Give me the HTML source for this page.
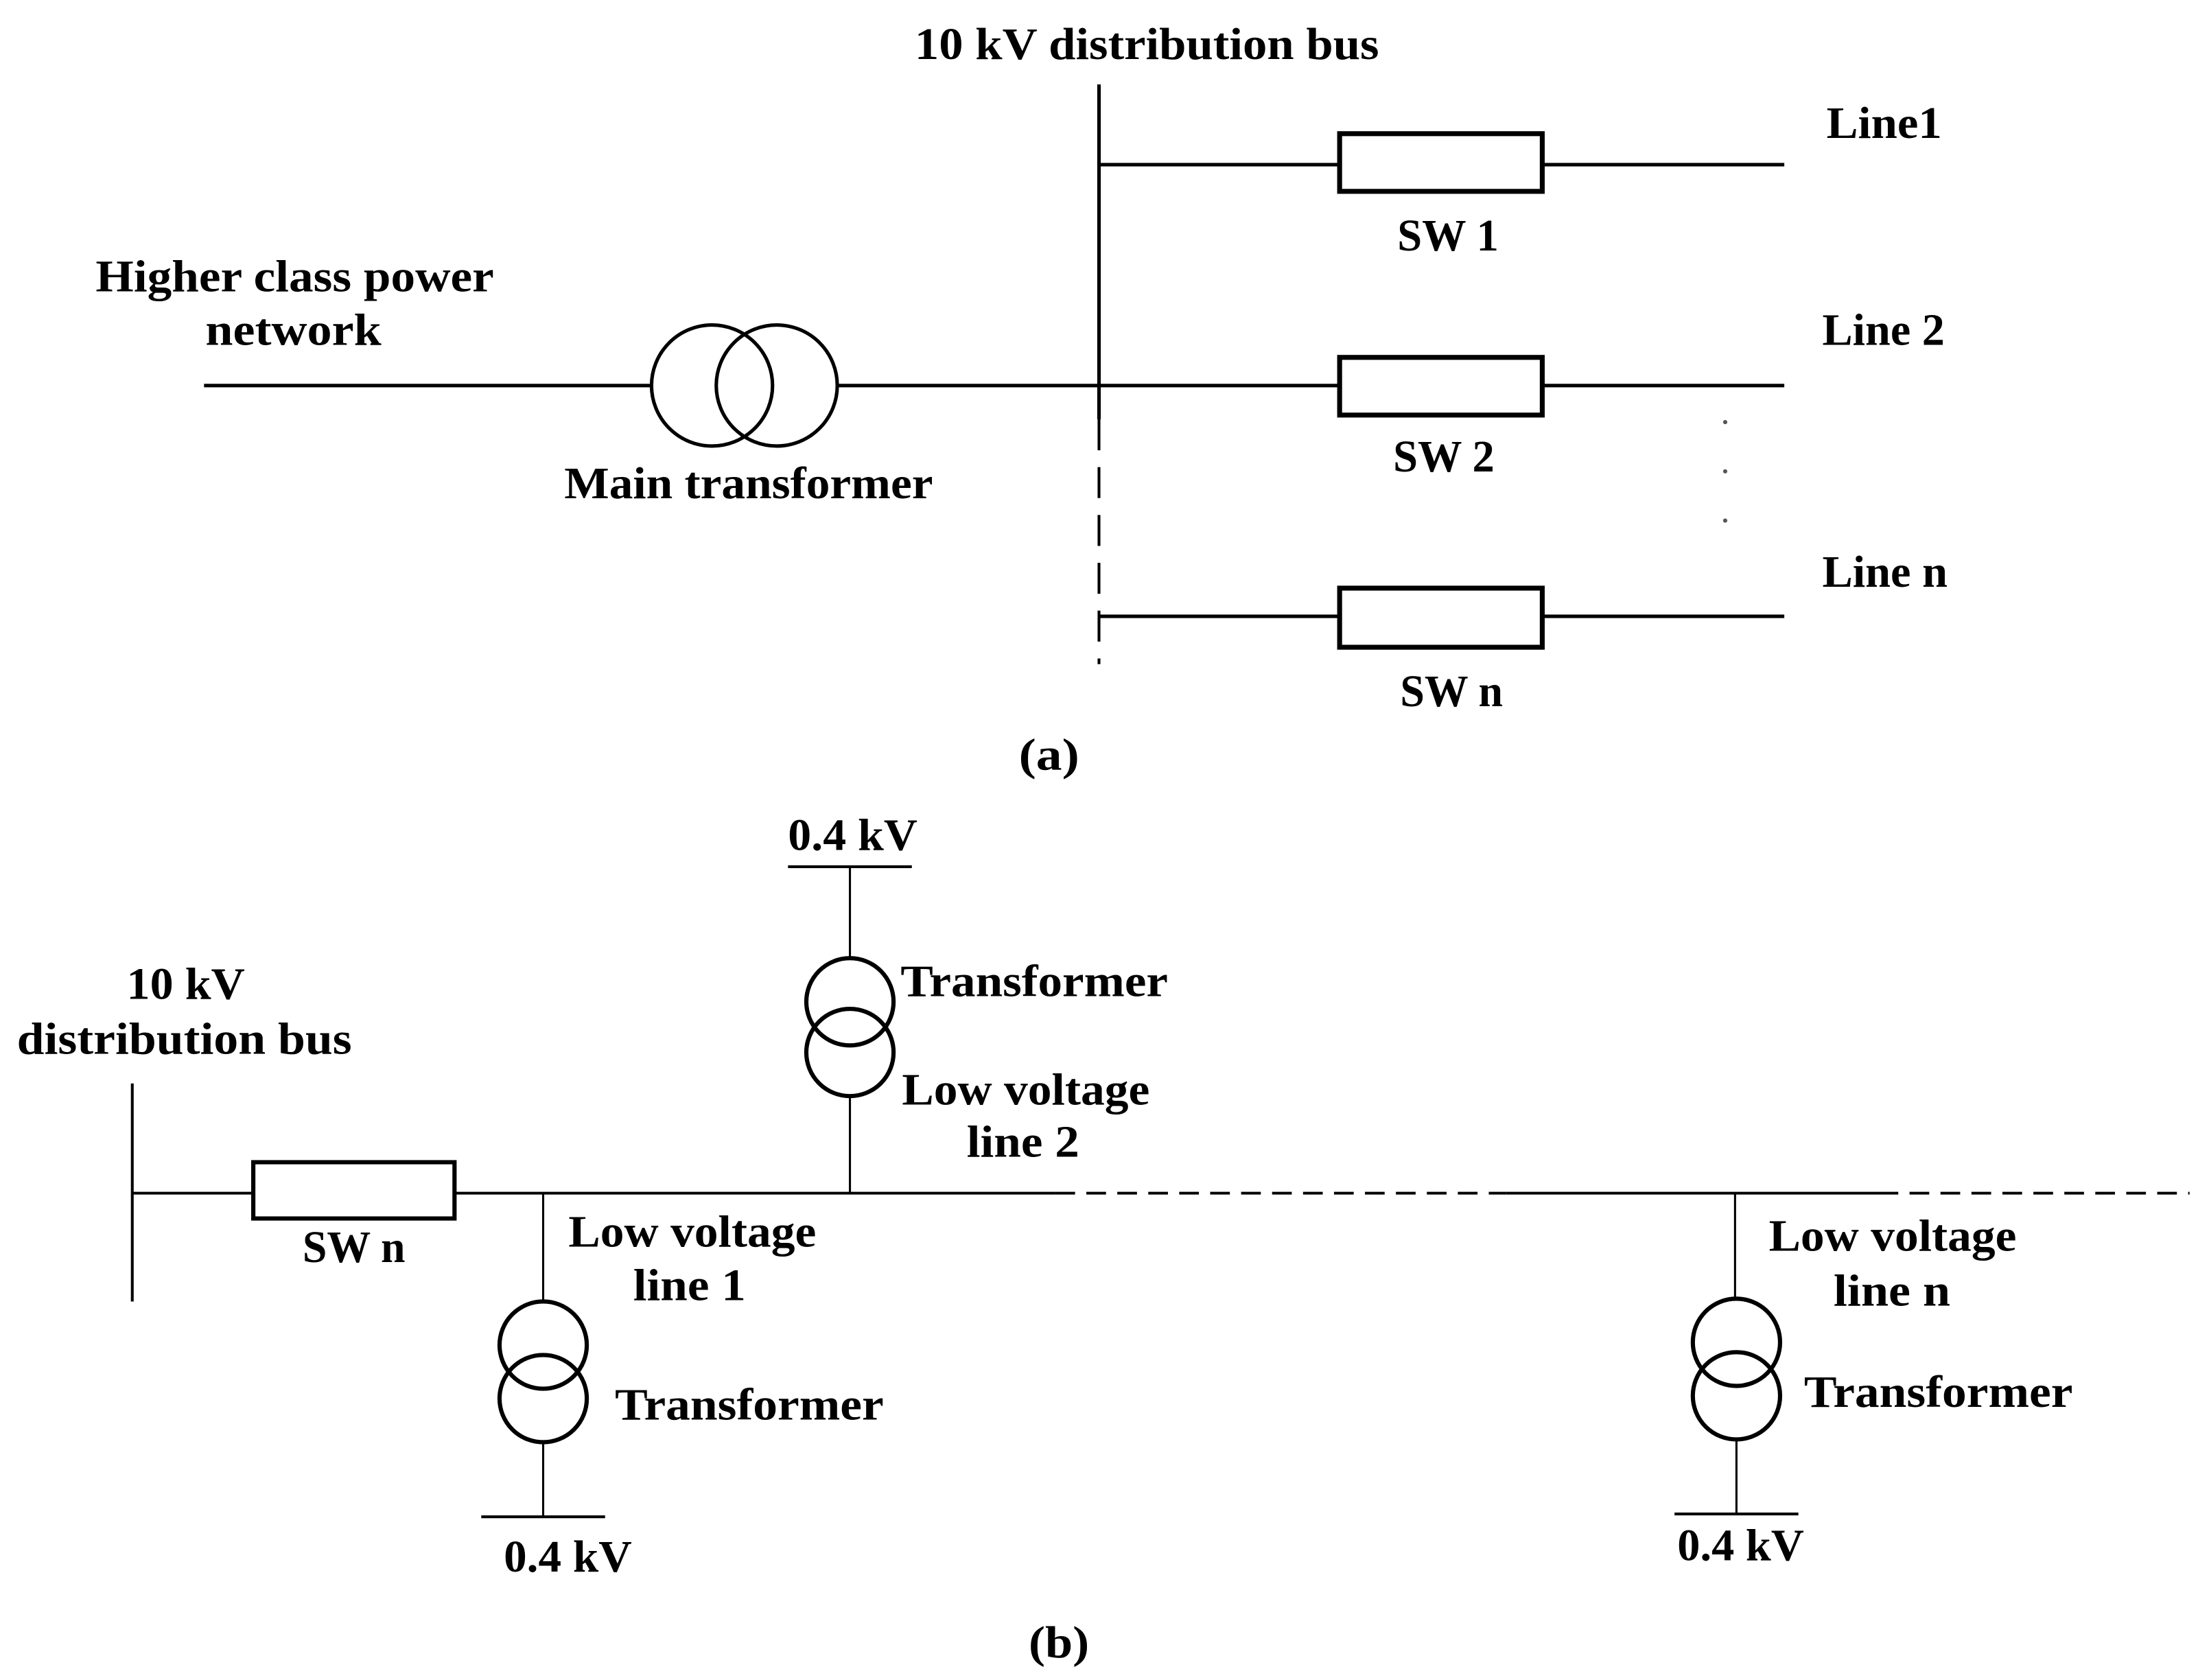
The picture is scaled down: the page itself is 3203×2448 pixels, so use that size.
<!DOCTYPE html>
<html><head><meta charset="utf-8"><style>
html,body{margin:0;padding:0;background:#fff;}
svg{display:block;}
text{font-family:"Liberation Serif",serif;font-weight:bold;font-size:32px;fill:#000;}
</style></head><body>
<svg width="3203" height="2448" viewBox="0 0 1562 1194" preserveAspectRatio="none" xmlns="http://www.w3.org/2000/svg">
<g stroke="#000" fill="none" stroke-width="2.5">
<line x1="781" y1="60" x2="781" y2="298"/>
<line x1="781" y1="298" x2="781" y2="472" stroke-dasharray="22,12" stroke-width="2"/>
<line x1="781" y1="117" x2="952" y2="117"/><line x1="1096" y1="117" x2="1268" y2="117"/>
<rect x="952" y="95" width="144" height="41" stroke-width="3.5"/>
<line x1="781" y1="274" x2="952" y2="274"/><line x1="1096" y1="274" x2="1268" y2="274"/>
<rect x="952" y="254" width="144" height="41" stroke-width="3.5"/>
<line x1="781" y1="438" x2="952" y2="438"/><line x1="1096" y1="438" x2="1268" y2="438"/>
<rect x="952" y="418" width="144" height="42" stroke-width="3.5"/>
<line x1="145" y1="274" x2="463" y2="274"/><line x1="595" y1="274" x2="781" y2="274"/>
<circle cx="506" cy="274" r="43"/><circle cx="552" cy="274" r="43"/>
<line x1="94" y1="770" x2="94" y2="925" stroke-width="2"/>
<line x1="94" y1="848" x2="750" y2="848" stroke-width="2"/>
<line x1="750" y1="848" x2="1070" y2="848" stroke-width="2" stroke-dasharray="14,8"/>
<line x1="1070" y1="848" x2="1335" y2="848" stroke-width="2"/>
<line x1="1335" y1="848" x2="1556" y2="848" stroke-width="2" stroke-dasharray="14,8"/>
<rect x="180" y="826" width="143" height="40" fill="#fff" stroke-width="3"/>
<line x1="386" y1="848" x2="386" y2="925" stroke-width="1.5"/>
<line x1="386" y1="1025" x2="386" y2="1078" stroke-width="1.5"/>
<line x1="342" y1="1078" x2="430" y2="1078" stroke-width="2"/>
<circle cx="386" cy="956" r="31" stroke-width="3"/><circle cx="386" cy="994" r="31" stroke-width="3"/>
<line x1="604" y1="848" x2="604" y2="779" stroke-width="1.5"/>
<line x1="604" y1="681" x2="604" y2="616" stroke-width="1.5"/>
<line x1="560" y1="616" x2="648" y2="616" stroke-width="2"/>
<circle cx="604" cy="712" r="31" stroke-width="3"/><circle cx="604" cy="748" r="31" stroke-width="3"/>
<line x1="1233" y1="848" x2="1233" y2="922" stroke-width="1.5"/>
<line x1="1234" y1="1023" x2="1234" y2="1076" stroke-width="1.5"/>
<line x1="1190" y1="1076" x2="1278" y2="1076" stroke-width="2"/>
<circle cx="1234" cy="954" r="31" stroke-width="3"/><circle cx="1234" cy="992" r="31" stroke-width="3"/>
</g>
<g fill="#555"><circle cx="1226" cy="300" r="1.5"/><circle cx="1226" cy="335" r="1.5"/><circle cx="1226" cy="370" r="1.5"/></g>
<g lengthAdjust="spacingAndGlyphs">
<text lengthAdjust="spacingAndGlyphs" x="650" y="42" textLength="330">10 kV distribution bus</text>
<text lengthAdjust="spacingAndGlyphs" x="1298" y="98" textLength="82">Line1</text>
<text lengthAdjust="spacingAndGlyphs" x="993" y="178" textLength="72">SW 1</text>
<text lengthAdjust="spacingAndGlyphs" x="68" y="207" textLength="283">Higher class power</text>
<text lengthAdjust="spacingAndGlyphs" x="146" y="245" textLength="125">network</text>
<text lengthAdjust="spacingAndGlyphs" x="1295" y="245" textLength="87">Line 2</text>
<text lengthAdjust="spacingAndGlyphs" x="990" y="335" textLength="72">SW 2</text>
<text lengthAdjust="spacingAndGlyphs" x="401" y="354" textLength="262">Main transformer</text>
<text lengthAdjust="spacingAndGlyphs" x="1295" y="417" textLength="89">Line n</text>
<text lengthAdjust="spacingAndGlyphs" x="995" y="502" textLength="73">SW n</text>
<text lengthAdjust="spacingAndGlyphs" x="724" y="547" textLength="43">(a)</text>
<text lengthAdjust="spacingAndGlyphs" x="560" y="604" textLength="92">0.4 kV</text>
<text lengthAdjust="spacingAndGlyphs" x="90" y="710" textLength="84">10 kV</text>
<text lengthAdjust="spacingAndGlyphs" x="12" y="749" textLength="238">distribution bus</text>
<text lengthAdjust="spacingAndGlyphs" x="640" y="708" textLength="190">Transformer</text>
<text lengthAdjust="spacingAndGlyphs" x="641" y="785" textLength="176">Low voltage</text>
<text lengthAdjust="spacingAndGlyphs" x="687" y="822" textLength="80">line 2</text>
<text lengthAdjust="spacingAndGlyphs" x="215" y="897" textLength="73">SW n</text>
<text lengthAdjust="spacingAndGlyphs" x="404" y="886" textLength="176">Low voltage</text>
<text lengthAdjust="spacingAndGlyphs" x="450" y="924" textLength="80">line 1</text>
<text lengthAdjust="spacingAndGlyphs" x="437" y="1009" textLength="191">Transformer</text>
<text lengthAdjust="spacingAndGlyphs" x="358" y="1117" textLength="91">0.4 kV</text>
<text lengthAdjust="spacingAndGlyphs" x="1257" y="889" textLength="176">Low voltage</text>
<text lengthAdjust="spacingAndGlyphs" x="1303" y="928" textLength="83">line n</text>
<text lengthAdjust="spacingAndGlyphs" x="1282" y="1000" textLength="191">Transformer</text>
<text lengthAdjust="spacingAndGlyphs" x="1192" y="1109" textLength="90">0.4 kV</text>
<text lengthAdjust="spacingAndGlyphs" x="731" y="1178" textLength="43">(b)</text>
</g>
</svg>
</body></html>
